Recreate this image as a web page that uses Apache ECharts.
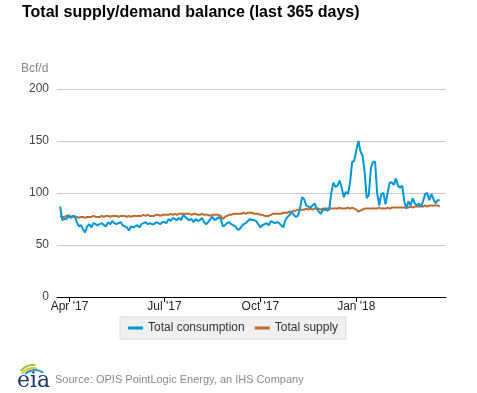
<!DOCTYPE html>
<html>
<head>
<meta charset="utf-8">
<script src="https://cdn.jsdelivr.net/npm/echarts@6/dist/echarts.min.js"></script>
<style>
html,body{margin:0;padding:0;background:#fff;}
#chart{width:477px;height:393px;}
</style>
</head>
<body>
<div id="chart"></div>
<script>
// ---- Data (2-day samples, first day 2017-03-23) ----
var startDate = [2017, 2, 23];   // year, month (0-based), day
var stepDays = 2;
var consumption = [
  87,74,75,75,79,76,77,78,72,68, 69,65,62,68,70,67,71,70,69,70,
  71,69,68,72,70,73,71,70,71,72, 69,68,67,64,68,67,68,69,67,70,
  71,72,70,71,70,70,72,71,70,72, 72,71,75,73,76,75,74,76,74,79,
  77,75,74,75,72,75,73,74,76,72, 70,72,75,77,74,75,77,75,68,69,
  71,72,70,69,68,65,65,68,70,71, 73,75,74,74,73,70,67,69,70,71,
  69,73,72,71,72,71,69,67,74,77, 79,82,79,77,78,85,96,94,88,87,
  86,88,90,85,82,80,84,84,83,84, 100,110,106,107,112,105,96,101,99,110,
  130,131,141,150,140,136,120,95,98,124, 130,130,100,88,99,100,89,100,110,110,
  108,114,107,105,107,92,85,92,88,95, 90,88,90,87,92,99,100,93,99,94,
  90,93,93
];
var supply = [
  78,77,77,78,77,77,78,77,77,76, 77,77,76,77,77,77,78,77,77,77,
  78,77,78,78,77,78,78,78,77,78, 78,78,77,78,77,78,78,78,78,78,
  79,78,79,78,78,78,79,79,78,79, 79,79,79,80,79,80,79,80,80,80,
  80,80,80,79,80,80,79,79,80,79, 79,79,78,79,79,79,79,78,75,77,
  78,79,79,80,80,80,80,80,81,80, 81,81,81,80,80,80,79,79,78,78,
  78,79,80,80,80,80,80,81,81,81, 82,82,83,83,84,84,84,84,85,84,
  85,84,85,85,85,84,85,85,85,85, 85,85,85,85,86,85,85,85,86,85,
  86,85,84,82,83,84,85,85,85,85, 85,85,85,86,85,85,85,86,85,86,
  86,86,86,86,86,86,86,86,87,86, 87,87,87,87,87,88,87,88,88,88,
  88,88,87
];
var seriesNames = ['Total consumption', 'Total supply'];
var tickDates = ['2017-04-01', '2017-07-01', '2017-10-01', '2018-01-01'];
var axisMin = '2017-03-20', axisMax = '2018-03-28';
var yTicks = [0, 50, 100, 150, 200];

var DAY = 86400000;
function ts(s){ var p = s.split('-'); return Date.UTC(+p[0], +p[1]-1, +p[2]); }
var t0 = Date.UTC(startDate[0], startDate[1], startDate[2]);
function pairs(vals){ return vals.map(function(v,i){ return [t0 + i*stepDays*DAY, v]; }); }
var monthNames = ['Jan','Feb','Mar','Apr','May','Jun','Jul','Aug','Sep','Oct','Nov','Dec'];
var tickTs = tickDates.map(ts);

var chart = echarts.init(document.getElementById('chart'), null, {renderer:'canvas'});
var font = 'Arial, "Liberation Sans", sans-serif';
chart.setOption({
  animation: false,
  backgroundColor: '#ffffff',
  textStyle: {fontFamily: font},
  title: {
    text: 'Total supply/demand balance (last 365 days)',
    left: 22, top: 5, padding: 0,
    textStyle: {fontSize: 16, fontWeight: 'bold', color: '#000', fontFamily: font}
  },
  grid: {left: 57, right: 31, top: 89, bottom: 96, containLabel: false},
  legend: {
    left: 120, top: 317,
    data: seriesNames,
    backgroundColor: '#f0f0f0',
    borderColor: '#dcdcdc', borderWidth: 1,
    padding: [5, 8, 5, 8],
    itemGap: 10,
    itemWidth: 15, itemHeight: 3,
    icon: 'rect',
    textStyle: {fontSize: 12, color: '#333', fontFamily: font}
  },
  xAxis: {
    type: 'value',
    min: ts(axisMin), max: ts(axisMax),
    splitLine: {show: false},
    axisLine: {show: true, lineStyle: {color: '#000', width: 1}},
    axisTick: {show: true, length: 5, lineStyle: {color: '#000'}, customValues: tickTs},
    axisLabel: {
      customValues: tickTs,
      color: '#222', fontSize: 12, margin: 4,
      formatter: function(v){ var d = new Date(v); return monthNames[d.getUTCMonth()] + " '" + String(d.getUTCFullYear()).slice(2); }
    }
  },
  yAxis: {
    type: 'value',
    min: yTicks[0], max: yTicks[yTicks.length-1], interval: 50,
    name: 'Bcf/d',
    nameLocation: 'end',
    nameGap: 0,
    nameTextStyle: {color: '#888', fontSize: 12, align: 'left', padding: [0, 0, 14, -36]},
    axisLine: {show: false},
    axisTick: {show: false},
    axisLabel: {color: '#444', fontSize: 12, margin: 8},
    splitLine: {lineStyle: {color: '#c8c8c8', width: 1}}
  },
  series: [
    {name: seriesNames[0], type: 'line', data: pairs(consumption), showSymbol: false, symbol: 'none',
     lineStyle: {color: '#0096d7', width: 2}, itemStyle: {color: '#0096d7'}, z: 3},
    {name: seriesNames[1], type: 'line', data: pairs(supply), showSymbol: false, symbol: 'none',
     lineStyle: {color: '#bd6b2c', width: 2}, itemStyle: {color: '#bd6b2c'}, z: 2}
  ],
  graphic: [
    {type: 'arc', shape: {cx: 33, cy: 380, r: 15, startAngle: Math.PI*1.2, endAngle: Math.PI*1.55}, style: {stroke: '#8dc63f', lineWidth: 2, fill: null}},
    {type: 'arc', shape: {cx: 33, cy: 382, r: 14, startAngle: Math.PI*1.2, endAngle: Math.PI*1.6}, style: {stroke: '#f2c313', lineWidth: 2, fill: null}},
    {type: 'arc', shape: {cx: 35, cy: 384, r: 14, startAngle: Math.PI*1.25, endAngle: Math.PI*1.7}, style: {stroke: '#1e9bd7', lineWidth: 2, fill: null}},
    {type: 'text', left: 17, top: 370, style: {text: 'eia', font: '22px "DejaVu Serif", "Liberation Serif", serif', fill: '#1a3a6e'}},
    {type: 'text', left: 55, top: 374, style: {text: 'Source: OPIS PointLogic Energy, an IHS Company', font: '11px Arial, "Liberation Sans", sans-serif', fill: '#8a8a8a'}}
  ]
});
</script>
</body>
</html>
